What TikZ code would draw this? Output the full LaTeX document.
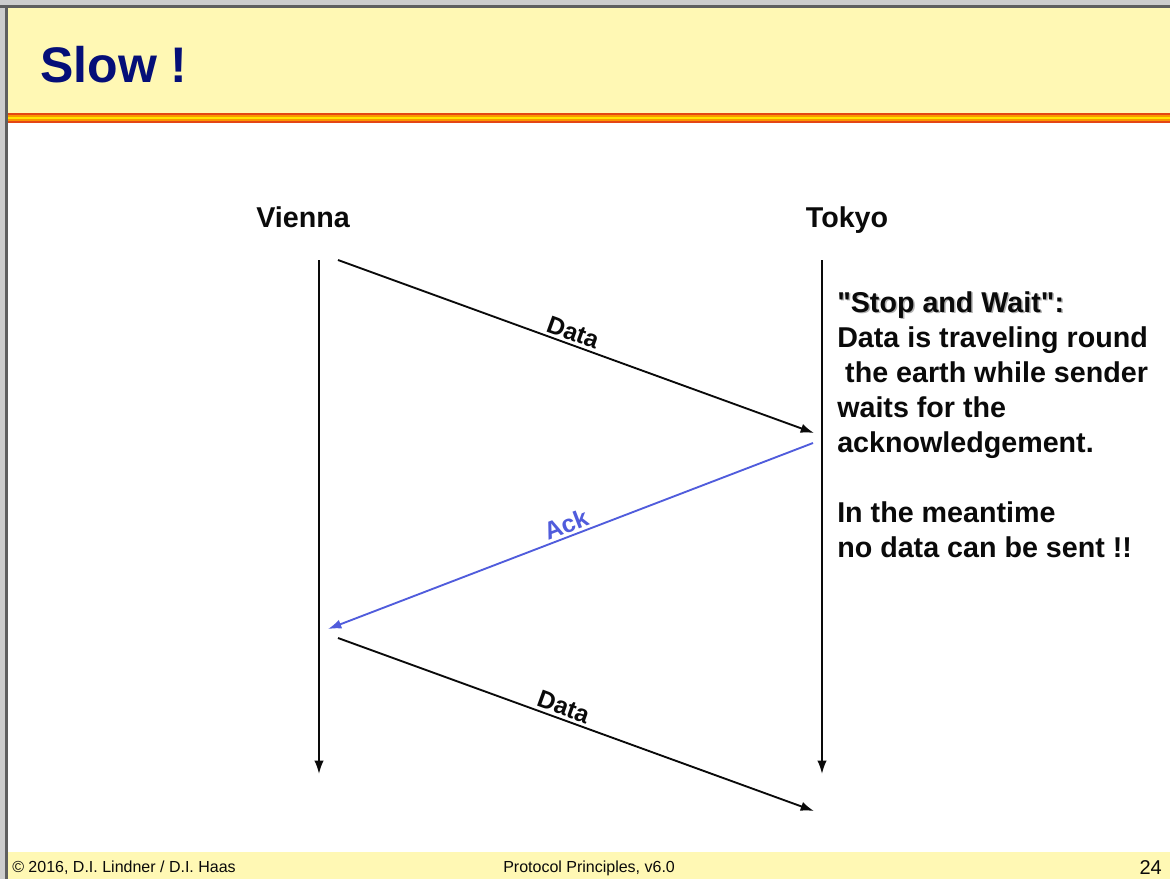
\documentclass[tikz,border=0pt]{standalone}
\usepackage{fontspec}
\setmainfont{Liberation Sans}[Ligatures=TeXOff]
\usetikzlibrary{arrows.meta,positioning}
\definecolor{paleyellow}{RGB}{255,248,180}
\definecolor{navy}{RGB}{5,15,120}
\definecolor{flame}{RGB}{228,70,20}
\definecolor{orangeband}{RGB}{250,150,0}
\definecolor{sunband}{RGB}{255,228,0}
\definecolor{frameline}{RGB}{95,95,95}
\definecolor{framegray}{RGB}{205,205,205}
\definecolor{ackblue}{RGB}{80,92,220}
\definecolor{ink}{RGB}{10,10,10}
\tikzset{
  station/.style={font=\fontsize{21.5}{26}\bfseries\selectfont,text=ink,inner sep=0pt},
  lifeline/.style={-{Latex[length=10pt,width=7pt]},draw=ink,line width=1.4pt},
  msg/.style={-{Latex[length=10pt,width=7pt]},draw=#1,line width=1.4pt},
  msg/.default=ink,
  msglabel/.style={font=\fontsize{18.5}{20}\bfseries\selectfont,text=#1,sloped,above,inner sep=2pt},
  msglabel/.default=ink,
  note/.style={font=\fontsize{21.5}{26.25}\bfseries\selectfont,align=left,inner sep=0pt,anchor=north west},
  footer/.style={font=\fontsize{12}{14}\selectfont,text=ink,inner sep=0pt,anchor=base west},
}
\begin{document}
\begin{tikzpicture}[x=0.75pt,y=-0.75pt]
  \useasboundingbox (0,0) rectangle (1170,879);
  % frame and title bar
  \fill[white] (0,0) rectangle (1170,879);
  \fill[framegray] (0,0) rectangle (1170,7);
  \fill[framegray] (0,0) rectangle (6,879);
  \fill[frameline] (0,5) rectangle (1170,8);
  \fill[frameline] (5,5) rectangle (8,879);
  \fill[paleyellow] (8,8) rectangle (1170,113);
  \fill[flame] (8,113) rectangle (1170,123);
  \fill[orangeband] (8,115) rectangle (1170,121);
  \fill[sunband] (8,117) rectangle (1170,119);
  \fill[paleyellow] (8,852) rectangle (1170,879);
  \node[font=\fontsize{37.5}{40}\bfseries\selectfont,text=navy,inner sep=0pt,anchor=base west] (title) at (40,82) {Slow !};

  % stations and time lines
  \node[station,anchor=base] (vienna) at (303,227) {Vienna};
  \node[station,anchor=base] (tokyo) at (847,227) {Tokyo};
  \coordinate (vtop) at (319,260);
  \coordinate (vbot) at (319,774);
  \coordinate (ttop) at (822,260);
  \coordinate (tbot) at (822,774);
  \draw[lifeline] (vtop) -- (vbot);
  \draw[lifeline] (ttop) -- (tbot);

  % messages
  \coordinate (d1s) at (338,260);
  \coordinate (d1e) at (814,433);
  \coordinate (a1s) at (813,443);
  \coordinate (a1e) at (328,629);
  \coordinate (d2s) at (338,638);
  \coordinate (d2e) at (814,811);
  \draw[msg] (d1s) -- node[msglabel,pos=0.485] (data1) {Data} (d1e);
  \draw[msg=ackblue] (a1s) -- node[msglabel=ackblue,pos=0.5] (ack1) {Ack} (a1e);
  \draw[msg] (d2s) -- node[msglabel,pos=0.465] (data2) {Data} (d2e);

  % explanation
  \node[note,text=black!30] (shadow) at (838.5,292.5) {"Stop and Wait":};
  \node[note,text=ink] (explain) at (837,291) {"Stop and Wait":\\
    Data is traveling round\\
    \hspace*{0.278em}the earth while sender\\
    waits for the\\
    acknowledgement.\\
    \mbox{}\\
    In the meantime\\
    no data can be sent !!};

  % footer
  \node[footer] (copy) at (12,872) {\textcopyright{} 2016, D.I. Lindner / D.I. Haas};
  \node[footer] (course) at (503,872) {Protocol Principles, v6.0};
  \node[footer,anchor=base east,font=\fontsize{15}{16}\selectfont] (page) at (1162,874) {24};
\end{tikzpicture}
\end{document}
